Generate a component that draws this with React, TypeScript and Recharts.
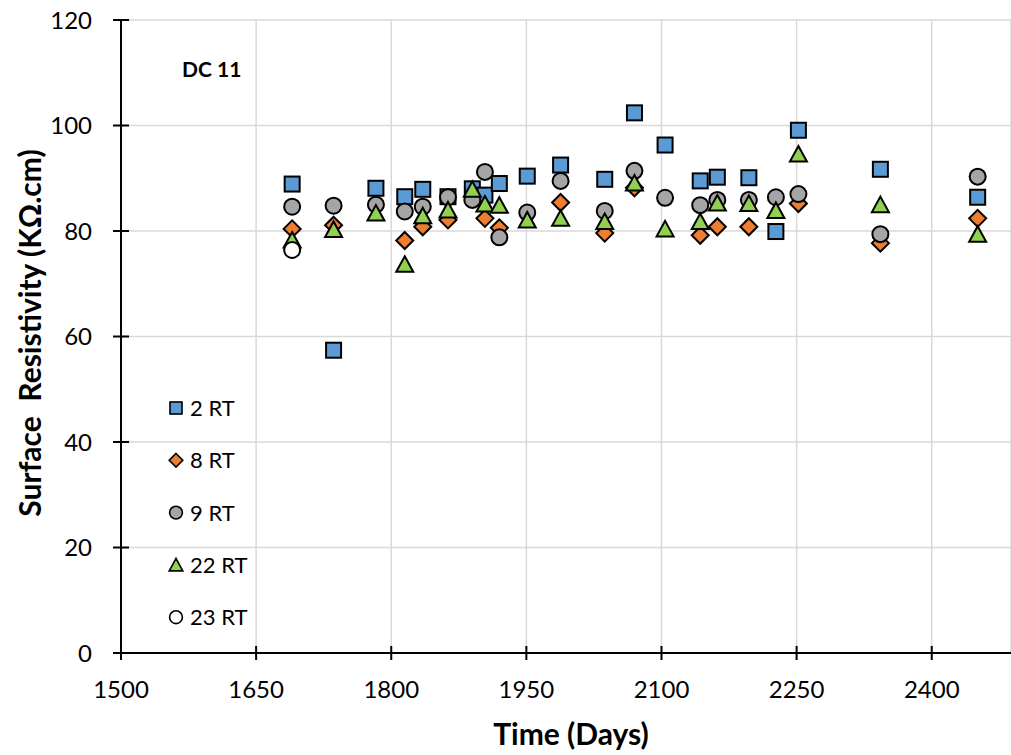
import React from "react";
import {
  ScatterChart,
  Scatter,
  XAxis,
  YAxis,
  CartesianGrid,
  Legend,
  Customized,
} from "recharts";

// days of each reading
const days = [1690, 1736, 1783, 1815, 1835, 1863, 1890, 1904, 1920, 1951, 1988, 2037, 2070, 2104, 2143, 2162, 2197, 2227, 2252, 2343, 2451];

// surface resistivity (KΩ.cm) per specimen, null = no marker
const rt2 = [88.9, 57.4, 88.1, 86.5, 87.9, 86.5, 88.0, 86.8, 89.0, 90.4, 92.5, 89.8, 102.4, 96.3, 89.5, 90.2, 90.1, 79.9, 99.1, 91.7, 86.4];
const rt8 = [80.4, 81.1, null, 78.2, 80.8, 82.1, null, 82.4, 80.6, null, 85.4, 79.6, 88.2, null, 79.2, 80.8, 80.8, null, 85.2, 77.7, 82.4];
const rt9 = [84.6, 84.8, 85.0, 83.7, 84.6, 86.4, 85.9, 91.2, 78.8, 83.5, 89.5, 83.8, 91.4, 86.3, 84.9, 85.9, 85.9, 86.4, 87.0, 79.4, 90.3];
const rt22 = [78.3, 80.3, 83.4, 73.7, 82.9, 84.0, 87.9, 85.1, 84.9, 82.1, 82.4, 81.8, 89.1, 80.4, 81.8, 85.3, 85.2, 83.9, 94.6, 85.0, 79.4];
const rt23 = [76.4, null, null, null, null, null, null, null, null, null, null, null, null, null, null, null, null, null, null, null, null];

const xTicks = [1500, 1650, 1800, 1950, 2100, 2250, 2400];
const yTicks = [0, 20, 40, 60, 80, 100, 120];

const FONT = "Lato, 'Open Sans', sans-serif";

type Kind = "square" | "diamond" | "circle" | "triangle";

const series: { name: string; values: (number | null)[]; kind: Kind; color: string }[] = [
  { name: "2 RT", values: rt2, kind: "square", color: "#5B9BD5" },
  { name: "8 RT", values: rt8, kind: "diamond", color: "#ED7D31" },
  { name: "9 RT", values: rt9, kind: "circle", color: "#A5A5A5" },
  { name: "22 RT", values: rt22, kind: "triangle", color: "#92D050" },
  { name: "23 RT", values: rt23, kind: "circle", color: "#FFFFFF" },
];

const toPoints = (vals: (number | null)[]) =>
  days.map((d, i) => ({ x: d, y: vals[i] })).filter((p) => p.y !== null);

function Marker({ kind, cx, cy, color, s = 1 }: { kind: Kind; cx: number; cy: number; color: string; s?: number }) {
  const sw = 2 * s;
  if (kind === "square") {
    const h = 7.5 * s;
    return <rect x={cx - h} y={cy - h} width={2 * h} height={2 * h} fill={color} stroke="#000" strokeWidth={sw} />;
  }
  if (kind === "diamond") {
    const r = 8.5 * s;
    return (
      <polygon
        points={`${cx},${cy - r} ${cx + r},${cy} ${cx},${cy + r} ${cx - r},${cy}`}
        fill={color}
        stroke="#000"
        strokeWidth={sw}
        strokeLinejoin="miter"
      />
    );
  }
  if (kind === "triangle") {
    const w = 8.5 * s;
    const h = 7.5 * s;
    return (
      <polygon
        points={`${cx},${cy - h - 0.5 * s} ${cx + w},${cy + h} ${cx - w},${cy + h}`}
        fill={color}
        stroke="#000"
        strokeWidth={sw}
      />
    );
  }
  return <circle cx={cx} cy={cy} r={8 * s} fill={color} stroke="#000" strokeWidth={sw} />;
}

const XTick = (props: any) => {
  const { x, y, payload } = props;
  return (
    <g>
      <line x1={x} x2={x} y1={y - 7} y2={y + 7} stroke="#000" strokeWidth={2} />
      <text x={x} y={y + 45} textAnchor="middle" fontSize={24} fill="#000" fontFamily={FONT}>
        {payload.value}
      </text>
    </g>
  );
};

const YTick = (props: any) => {
  const { x, y, payload } = props;
  return (
    <g>
      <line x1={x - 8} x2={x + 8} y1={y} y2={y} stroke="#000" strokeWidth={2} />
      <text x={x - 29} y={y + 8.5} textAnchor="end" fontSize={24} fill="#000" fontFamily={FONT}>
        {payload.value}
      </text>
    </g>
  );
};

const LegendBox = () => (
  <svg width={120} height={270}>
    {series.map((s, i) => {
      const cy = 26 + i * 52.3;
      return (
        <g key={s.name}>
          <Marker kind={s.kind} cx={16} cy={cy} color={s.color} s={0.8} />
          <text x={30} y={cy + 8} fontSize={22} fill="#000" fontFamily={FONT}>
            {s.name}
          </text>
        </g>
      );
    })}
  </svg>
);

export default function App() {
  return (
    <div style={{ position: "absolute", left: 0, top: 0, width: 1011, height: 755, background: "#fff" }}>
      <ScatterChart width={1011} height={755} margin={{ top: 20, right: 0, bottom: 0, left: 0 }}>
        <CartesianGrid stroke="#d9d9d9" strokeWidth={1.5} />
        <XAxis
          type="number"
          dataKey="x"
          domain={[1500, 2488]}
          allowDataOverflow
          ticks={xTicks}
          height={102}
          tickSize={0}
          tickMargin={0}
          tickLine={false}
          axisLine={{ stroke: "#000", strokeWidth: 2 }}
          tick={<XTick />}
          label={(p: any) => {
            const vb = p.viewBox;
            return (
              <text x={vb.x + vb.width / 2 + 5} y={745} textAnchor="middle" fontSize={30} fontWeight={700} fill="#000" fontFamily={FONT}>
                Time (Days)
              </text>
            );
          }}
        />
        <YAxis
          type="number"
          dataKey="y"
          domain={[0, 120]}
          ticks={yTicks}
          width={121}
          tickSize={0}
          tickMargin={0}
          tickLine={false}
          axisLine={{ stroke: "#000", strokeWidth: 2 }}
          tick={<YTick />}
          label={() => (
            <text
              x={29}
              y={333}
              transform="rotate(-90, 29, 333)"
              textAnchor="middle"
              dominantBaseline="central"
              fontSize={30}
              fontWeight={700}
              fill="#000"
              fontFamily={FONT}
              style={{ whiteSpace: "pre" }}
            >
              {"Surface  Resistivity (KΩ.cm)"}
            </text>
          )}
        />
        {series.map((s) => (
          <Scatter
            key={s.name}
            name={s.name}
            data={toPoints(s.values)}
            isAnimationActive={false}
            shape={(p: any) => <Marker kind={s.kind} cx={p.cx} cy={p.cy} color={s.color} />}
          />
        ))}
        <Legend
          layout="vertical"
          align="center"
          verticalAlign="middle"
          content={() => <LegendBox />}
          wrapperStyle={{ left: 160, top: 382, width: 120, height: 270 }}
        />
        <Customized
          component={() => (
            <text x={182} y={77} fontSize={21} fontWeight={700} fill="#000" fontFamily={FONT}>
              DC 11
            </text>
          )}
        />
      </ScatterChart>
    </div>
  );
}
